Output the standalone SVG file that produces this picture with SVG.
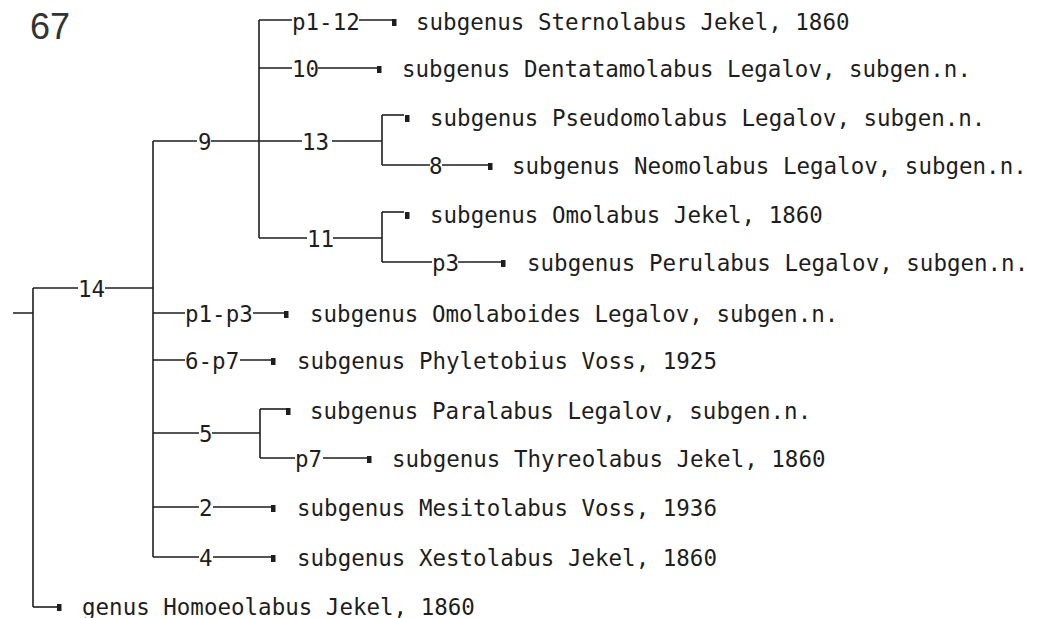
<svg xmlns="http://www.w3.org/2000/svg" width="1039" height="618" viewBox="0 0 1039 618">
<style>
.t{font-family:"DejaVu Sans Mono","Liberation Mono",monospace;font-size:22.5px;fill:#1e1e1e}
.c{fill:none;stroke:#1e1e1e;stroke-width:1.6}
.m{fill:#1e1e1e}
.title{font-family:"Liberation Sans",Arial,sans-serif;font-size:36px;fill:#333}
</style>
<rect width="1039" height="618" fill="#fff"/>
<text class="title" x="30" y="39">67</text>
<g id="connectors" class="c">
<path d="M13,313H33 M33,288V607"/>
<path d="M33,288H78 M105,288H153"/>
<path d="M153,141V557"/>
<path d="M153,141H197 M211,141H302 M332,141H382"/>
<path d="M259,20V238"/>
<path d="M259,20H292 M359,20H392"/>
<path d="M259,68H292 M318,68H377"/>
<path d="M382,115V165"/>
<path d="M382,115H404"/>
<path d="M382,165H430 M442,165H488"/>
<path d="M259,238H307 M333,238H382"/>
<path d="M382,212V262"/>
<path d="M382,212H404"/>
<path d="M382,262H432 M458,262H501"/>
<path d="M153,313H185 M253,313H284"/>
<path d="M153,360H185 M240,360H271"/>
<path d="M153,433H199 M212,433H260"/>
<path d="M260,409V458"/>
<path d="M260,409H286"/>
<path d="M260,458H295 M323,458H367"/>
<path d="M153,507H199 M213,507H271"/>
<path d="M153,557H199 M213,557H271"/>
<path d="M33,607H57"/>
</g>
<g id="node-14"><text class="t" x="78" y="297">14</text></g>
<g id="node-9"><text class="t" x="198" y="150">9</text></g>
<g id="node-13"><text class="t" x="302" y="150">13</text></g>
<g id="node-11"><text class="t" x="307" y="247">11</text></g>
<g id="node-5"><text class="t" x="199" y="442">5</text></g>
<g id="leaf-sternolabus"><text class="t" x="292" y="30">p1-12</text><rect class="m" x="392" y="19" width="4.5" height="7"/><text class="t" x="416" y="30">subgenus Sternolabus Jekel, 1860</text></g>
<g id="leaf-dentatamolabus"><text class="t" x="292" y="77">10</text><rect class="m" x="377" y="66" width="4.5" height="7"/><text class="t" x="402" y="77">subgenus Dentatamolabus Legalov, subgen.n.</text></g>
<g id="leaf-pseudomolabus"><rect class="m" x="405" y="115" width="4.5" height="7"/><text class="t" x="430" y="126">subgenus Pseudomolabus Legalov, subgen.n.</text></g>
<g id="leaf-neomolabus"><text class="t" x="429" y="174">8</text><rect class="m" x="488" y="163" width="4.5" height="7"/><text class="t" x="512" y="174">subgenus Neomolabus Legalov, subgen.n.</text></g>
<g id="leaf-omolabus"><rect class="m" x="405" y="212" width="4.5" height="7"/><text class="t" x="430" y="223">subgenus Omolabus Jekel, 1860</text></g>
<g id="leaf-perulabus"><text class="t" x="432" y="271">p3</text><rect class="m" x="501" y="260" width="4.5" height="7"/><text class="t" x="527" y="271">subgenus Perulabus Legalov, subgen.n.</text></g>
<g id="leaf-omolaboides"><text class="t" x="185" y="322">p1-p3</text><rect class="m" x="284" y="311" width="4.5" height="7"/><text class="t" x="310" y="322">subgenus Omolaboides Legalov, subgen.n.</text></g>
<g id="leaf-phyletobius"><text class="t" x="185" y="369">6-p7</text><rect class="m" x="271" y="358" width="4.5" height="7"/><text class="t" x="297" y="369">subgenus Phyletobius Voss, 1925</text></g>
<g id="leaf-paralabus"><rect class="m" x="286" y="408" width="4.5" height="7"/><text class="t" x="310" y="419">subgenus Paralabus Legalov, subgen.n.</text></g>
<g id="leaf-thyreolabus"><text class="t" x="295" y="467">p7</text><rect class="m" x="367" y="456" width="4.5" height="7"/><text class="t" x="392" y="467">subgenus Thyreolabus Jekel, 1860</text></g>
<g id="leaf-mesitolabus"><text class="t" x="199" y="516">2</text><rect class="m" x="271" y="505" width="4.5" height="7"/><text class="t" x="297" y="516">subgenus Mesitolabus Voss, 1936</text></g>
<g id="leaf-xestolabus"><text class="t" x="199" y="566">4</text><rect class="m" x="271" y="555" width="4.5" height="7"/><text class="t" x="297" y="566">subgenus Xestolabus Jekel, 1860</text></g>
<g id="leaf-homoeolabus"><rect class="m" x="57" y="604" width="4.5" height="7"/><text class="t" x="82" y="615">genus Homoeolabus Jekel, 1860</text></g>
</svg>
